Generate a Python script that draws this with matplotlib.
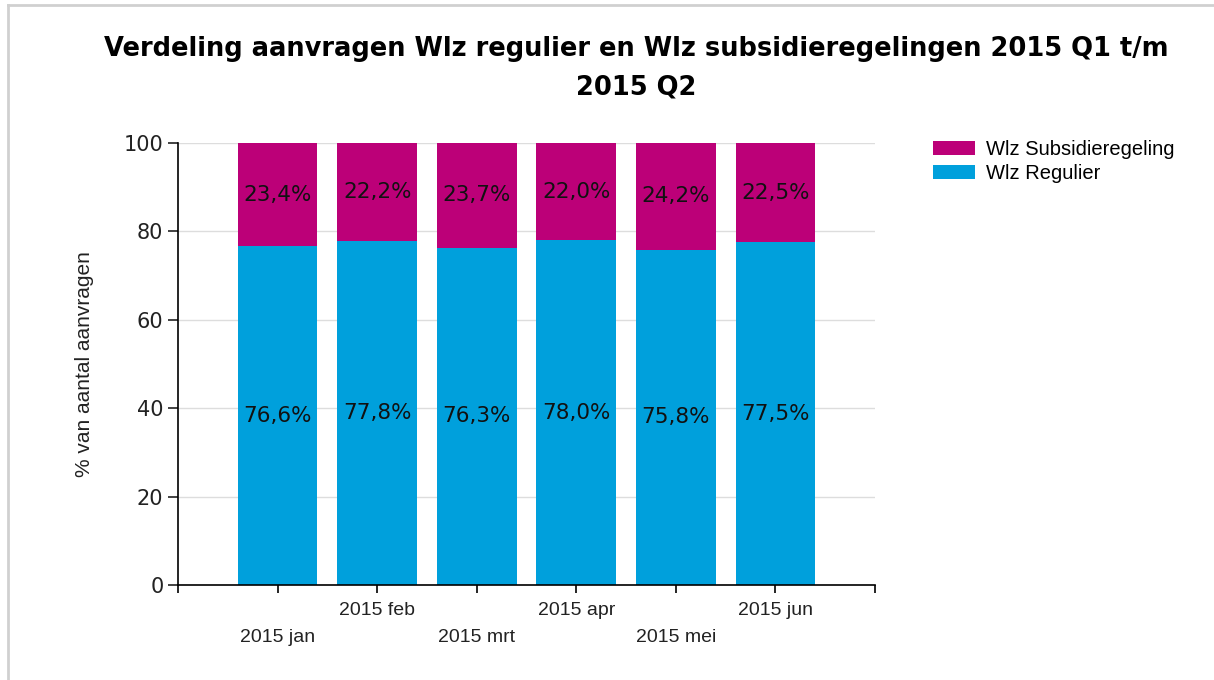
import numpy as np
import matplotlib.pyplot as plt
from matplotlib.lines import Line2D

# Data
months = ["2015 jan", "2015 feb", "2015 mrt", "2015 apr", "2015 mei", "2015 jun"]
regulier = [76.6, 77.8, 76.3, 78.0, 75.8, 77.5]
subsidie = [23.4, 22.2, 23.7, 22.0, 24.2, 22.5]

col_reg = "#00A0DC"
col_sub = "#BC0078"

fig = plt.figure(figsize=(12.14, 6.8), dpi=100)
ax = fig.add_axes([178 / 1214, 1 - 585 / 680, (875 - 178) / 1214, (585 - 143) / 680])

x = np.arange(len(months))
ax.bar(x, regulier, width=0.8, color=col_reg, label="Wlz Regulier", zorder=2)
ax.bar(x, subsidie, width=0.8, bottom=regulier, color=col_sub,
       label="Wlz Subsidieregeling", zorder=2)

# value labels in the middle of each segment
for i in range(len(months)):
    ax.text(x[i], regulier[i] / 2, f"{regulier[i]:.1f}%".replace(".", ","),
            ha="center", va="center", fontsize=15.5, color="#111111", zorder=3)
    ax.text(x[i], regulier[i] + subsidie[i] / 2, f"{subsidie[i]:.1f}%".replace(".", ","),
            ha="center", va="center", fontsize=15.5, color="#111111", zorder=3)

ax.set_xlim(-1, 6)
ax.set_ylim(0, 100)
ax.set_yticks(range(0, 101, 20))
ax.tick_params(axis="y", labelsize=15, length=7, width=1.2, colors="#222222")
ax.yaxis.grid(True, color="#DDDDDD", lw=1, zorder=0)

# x ticks at every unit, staggered labels
ax.set_xticks(np.arange(-1, 7))
ax.set_xticklabels([])
ax.tick_params(axis="x", length=6, width=1.2)
for i, m in enumerate(months):
    yoff = -0.057 if i % 2 == 1 else -0.118
    ax.text(x[i], yoff, m, transform=ax.get_xaxis_transform(),
            ha="center", va="center", fontsize=14, family="Liberation Sans",
            color="#222222")

for s in ["top", "right"]:
    ax.spines[s].set_visible(False)
ax.spines["left"].set_linewidth(1.2)
ax.spines["bottom"].set_linewidth(1.2)

ax.set_ylabel("% van aantal aanvragen", fontsize=15, family="Liberation Sans",
              labelpad=21, color="#222222")

fig.suptitle("Verdeling aanvragen Wlz regulier en Wlz subsidieregelingen 2015 Q1 t/m\n2015 Q2",
             x=636 / 1214, y=1 - 36 / 680, fontsize=18.5, fontweight="bold",
             linespacing=1.6)

h, l = ax.get_legend_handles_labels()
fig.legend(h[::-1], l[::-1], loc="upper left", bbox_to_anchor=(915 / 1214, 1 - 122 / 680),
           frameon=False, prop={"family": "Liberation Sans", "size": 14.5},
           handlelength=2.1, handleheight=0.65, handletextpad=0.55, labelspacing=0.25)

# page border
fig.add_artist(Line2D([8 / 1214, 8 / 1214], [0, 1 - 5 / 680], transform=fig.transFigure,
                      color="#D0D0D0", lw=2))
fig.add_artist(Line2D([8 / 1214, 1], [1 - 5 / 680, 1 - 5 / 680], transform=fig.transFigure,
                      color="#D0D0D0", lw=2))

fig.savefig("out.png", dpi=100)
